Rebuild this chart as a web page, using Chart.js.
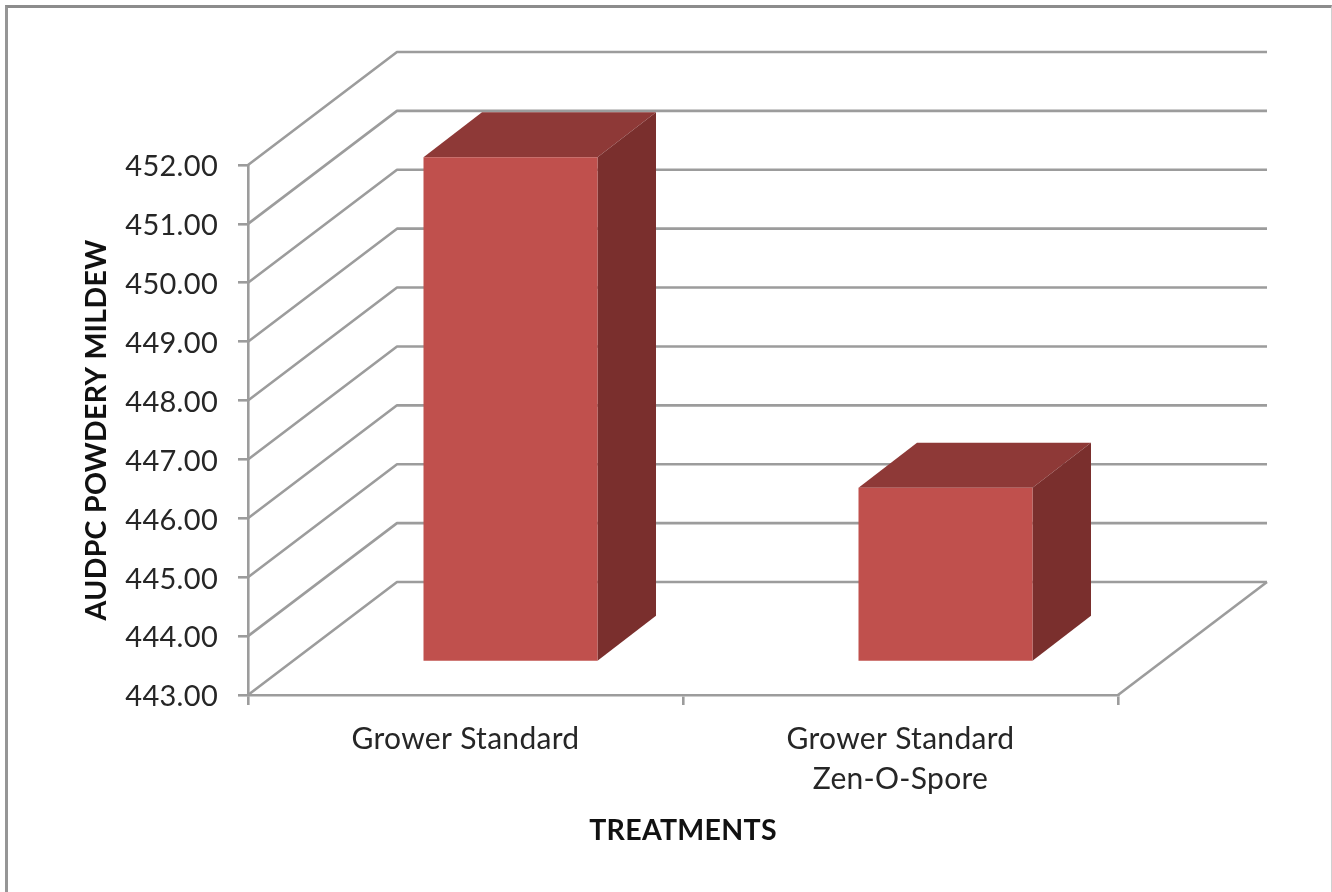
<!DOCTYPE html>
<html>
<head>
<meta charset="utf-8">
<title>AUDPC Powdery Mildew</title>
<script src="https://cdn.jsdelivr.net/npm/chart.js@4"></script>
<style>
  html, body { margin: 0; padding: 0; background: #fff; }
  #wrap { position: relative; width: 1332px; height: 892px; overflow: hidden; }
  #frame { position: absolute; left: 5px; top: 5px; right: 0; bottom: -10px;
    border-left: 3px solid #969696; border-top: 3px solid #8c8c8c; border-right: 1px solid #d0d0d0; }
  canvas { position: absolute; left: 0; top: 0; filter: blur(0.4px); }
</style>
</head>
<body>
<div id="wrap">
  <canvas id="chart" width="1332" height="892"></canvas>
  <div id="frame"></div>
</div>
<script>
const categories = ['Grower Standard', ['Grower Standard', 'Zen-O-Spore']];
const audpcValues = [451.57, 445.96];
const yTicks = [443, 444, 445, 446, 447, 448, 449, 450, 451, 452];

const lineColor = '#9c9c9c';
const textColor = '#262626';
const fontName = 'Lato';

// how far the back wall sits from the front plane
const wallDepth = { x: 149, y: -113 };
// where the bars stand on the floor, and how deep they are
const barShift = { x: 45, y: -33 };
const barDepth = { x: 58.5, y: -45 };

const threeD = {
  id: 'threeD',
  beforeDraw(chart) {
    chart.ctx.letterSpacing = '0.3px';
  },
  beforeDatasetsDraw(chart) {
    const ctx = chart.ctx;
    const xs = chart.scales.x;
    const ys = chart.scales.y;
    ctx.save();
    ctx.strokeStyle = lineColor;
    ctx.lineWidth = 2.6;
    ctx.lineJoin = 'round';
    yTicks.forEach(t => {
      const y = ys.getPixelForValue(t);
      ctx.beginPath();
      ctx.moveTo(xs.left, y);
      ctx.lineTo(xs.left + wallDepth.x, y + wallDepth.y);
      ctx.lineTo(xs.right + wallDepth.x, y + wallDepth.y);
      ctx.stroke();
    });
    // right edge of the floor
    const y0 = ys.getPixelForValue(yTicks[0]);
    ctx.beginPath();
    ctx.moveTo(xs.right, y0);
    ctx.lineTo(xs.right + wallDepth.x, y0 + wallDepth.y);
    ctx.stroke();
    ctx.restore();
  },
  beforeDatasetDraw(chart, args) {
    const ctx = chart.ctx;
    ctx.save();
    ctx.translate(barShift.x, barShift.y);
    args.meta.data.forEach(bar => {
      const left = bar.x - bar.width / 2;
      const right = bar.x + bar.width / 2;
      // top face
      ctx.fillStyle = '#8e3937';
      ctx.beginPath();
      ctx.moveTo(left, bar.y);
      ctx.lineTo(left + barDepth.x, bar.y + barDepth.y);
      ctx.lineTo(right + barDepth.x, bar.y + barDepth.y);
      ctx.lineTo(right, bar.y);
      ctx.closePath();
      ctx.fill();
      // side face
      ctx.fillStyle = '#7a2f2d';
      ctx.beginPath();
      ctx.moveTo(right, bar.y);
      ctx.lineTo(right + barDepth.x, bar.y + barDepth.y);
      ctx.lineTo(right + barDepth.x, bar.base + barDepth.y);
      ctx.lineTo(right, bar.base);
      ctx.closePath();
      ctx.fill();
    });
  },
  afterDatasetDraw(chart) {
    chart.ctx.restore();
  }
};

new Chart(document.getElementById('chart').getContext('2d'), {
  type: 'bar',
  plugins: [threeD],
  data: {
    labels: categories,
    datasets: [{
      label: 'AUDPC',
      data: audpcValues,
      base: yTicks[0],
      backgroundColor: '#c0504d',
      barPercentage: 0.4,
      categoryPercentage: 1,
      clip: false
    }]
  },
  options: {
    responsive: false,
    animation: false,
    layout: { padding: { left: 76, top: 165, right: 214, bottom: 40 } },
    plugins: { legend: { display: false }, tooltip: { enabled: false } },
    scales: {
      x: {
        afterFit: s => { s.height = 157; },
        grid: { drawOnChartArea: false, tickLength: 10, color: lineColor, lineWidth: 2.6 },
        border: { color: lineColor, width: 2.6 },
        ticks: { color: textColor, font: { family: fontName, size: 30, lineHeight: 1.34 }, padding: 14, maxRotation: 0, autoSkip: false },
        title: { display: true, text: 'TREATMENTS', color: '#111', font: { family: fontName, size: 28.5, weight: 'bold' } }
      },
      y: {
        min: 443,
        max: 452,
        afterFit: s => { s.width = 172; },
        afterBuildTicks: s => { s.ticks = yTicks.map(v => ({ value: v })); },
        grid: { drawOnChartArea: false, tickLength: 10, color: lineColor, lineWidth: 2.6 },
        border: { color: lineColor, width: 2.6 },
        ticks: { color: textColor, font: { family: fontName, size: 29 }, padding: 20, labelOffset: 2, callback: v => v.toFixed(2) },
        title: { display: true, text: 'AUDPC POWDERY MILDEW', color: '#111', font: { family: fontName, size: 28.5, weight: 'bold' } }
      }
    }
  }
});
</script>
</body>
</html>
